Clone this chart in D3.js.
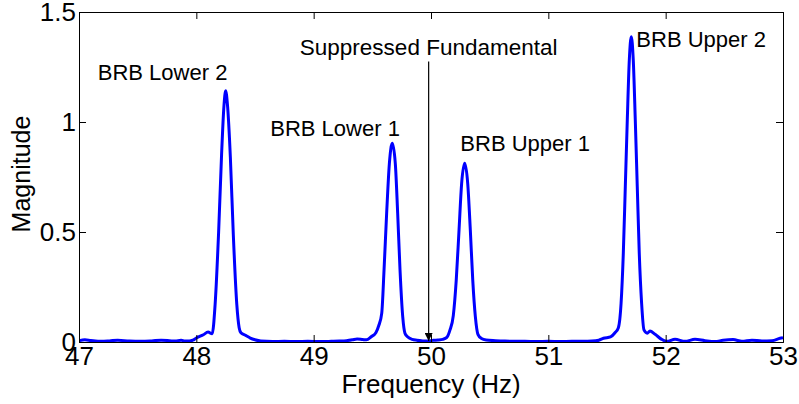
<!DOCTYPE html>
<html>
<head>
<meta charset="utf-8">
<script src="https://cdn.jsdelivr.net/npm/d3@7"></script>
<style>
  html, body { margin: 0; padding: 0; background: #fff; }
  svg { display: block; }
  text { font-family: "Liberation Sans", Arial, sans-serif; fill: #000; }
</style>
</head>
<body>
<svg id="chart" width="799" height="404"></svg>
<script>
// Spectrum of the stator current around the supply frequency
const freq = [
  47.00, 47.05, 47.10, 47.19, 47.26, 47.33, 47.43, 47.53, 47.62, 47.70, 47.77, 47.82, 47.87, 47.90, 47.94, 47.97,
  48.00, 48.06, 48.10, 48.135, 48.16, 48.19, 48.215, 48.235, 48.25, 48.265, 48.29, 48.315, 48.345, 48.365, 48.38,
  48.42, 48.46, 48.50, 48.55, 48.65, 48.75, 48.85, 48.95, 49.05, 49.15, 49.22, 49.28, 49.33, 49.37, 49.42, 49.45,
  49.49, 49.53, 49.555, 49.58, 49.60, 49.622, 49.645, 49.67, 49.696, 49.716, 49.736, 49.759, 49.778, 49.80,
  49.84, 49.88, 49.93, 49.97, 50.02, 50.06, 50.10, 50.135, 50.162, 50.19, 50.215, 50.239, 50.261, 50.287,
  50.313, 50.335, 50.356, 50.378, 50.40, 50.43, 50.47, 50.55, 50.63, 50.72, 50.80, 50.90, 51.00, 51.10, 51.20,
  51.30, 51.37, 51.43, 51.47, 51.53, 51.568, 51.597, 51.62, 51.639, 51.656, 51.673, 51.69, 51.707, 51.724,
  51.741, 51.758, 51.775, 51.795, 51.815, 51.843, 51.866, 51.91, 51.966, 52.01, 52.08, 52.165, 52.25, 52.335,
  52.42, 52.49, 52.575, 52.65, 52.735, 52.82, 52.906, 52.975, 53.00
];
const magnitude = [
  0.006, 0.010, 0.007, 0.003, 0.005, 0.008, 0.004, 0.003, 0.005, 0.008, 0.006, 0.004, 0.008, 0.005, 0.004, 0.008,
  0.018, 0.033, 0.045, 0.037, 0.17, 0.50, 0.85, 1.07, 1.142, 1.08, 0.84, 0.49, 0.17, 0.065, 0.042,
  0.030, 0.018, 0.010, 0.004, 0.002, 0.003, 0.002, 0.003, 0.002, 0.003, 0.004, 0.006, 0.010, 0.014, 0.011, 0.010,
  0.024, 0.042, 0.075, 0.13, 0.33, 0.585, 0.81, 0.903, 0.81, 0.585, 0.327, 0.115, 0.04, 0.024,
  0.012, 0.008, 0.005, 0.004, 0.008, 0.009, 0.012, 0.021, 0.055, 0.12, 0.28, 0.51, 0.72, 0.812,
  0.72, 0.51, 0.28, 0.115, 0.035, 0.016, 0.009, 0.006, 0.004, 0.003, 0.003, 0.002, 0.003, 0.002, 0.003,
  0.003, 0.004, 0.008, 0.017, 0.023, 0.042, 0.065, 0.176, 0.403, 0.706, 1.01, 1.28, 1.388, 1.28,
  1.01, 0.706, 0.403, 0.176, 0.055, 0.040, 0.050, 0.035, 0.012, 0.003, 0.012, 0.003, 0.012, 0.006,
  0.002, 0.008, 0.011, 0.003, 0.008, 0.005, 0.006, 0.017, 0.020
];

const xTicks = [47, 48, 49, 50, 51, 52, 53];
const yTicks = [0, 0.5, 1, 1.5];
const yTickLabels = ["0", "0.5", "1", "1.5"];

// Annotations: label text, anchor frequency, anchor magnitude
const annotationText = ["BRB Lower 2", "BRB Lower 1", "BRB Upper 1", "BRB Upper 2"];
const annotationFreq = [47.16, 48.63, 50.25, 51.75];
const annotationMag = [1.189, 0.937, 0.868, 1.34];

const fundamentalText = "Suppressed Fundamental";
const fundamentalFreq = 49.98;
const arrowTopMag = 1.275;

const svg = d3.select("#chart");
const margin = { left: 79, right: 16, top: 12, bottom: 62 };
const W = 799, H = 404;
const x = d3.scaleLinear().domain([47, 53]).range([margin.left, W - margin.right]);
const y = d3.scaleLinear().domain([0, 1.5]).range([H - margin.bottom, margin.top]);

const labelSize = 22;   // annotations
const tickSize = 26;    // tick labels
const titleSize = 26;   // axis titles

// Spectrum trace
const line = d3.line()
  .x((d, i) => x(freq[i]))
  .y(d => y(d))
  .curve(d3.curveMonotoneX);

svg.append("defs").append("clipPath").attr("id", "plotClip")
  .append("rect")
  .attr("x", x(47)).attr("y", y(1.5) - 2)
  .attr("width", x(53) - x(47)).attr("height", y(0) - y(1.5) + 2);

svg.append("path")
  .datum(magnitude)
  .attr("clip-path", "url(#plotClip)")
  .attr("fill", "none")
  .attr("stroke", "#0000ff")
  .attr("stroke-width", 3)
  .attr("stroke-linejoin", "round")
  .attr("d", line);

// Axes box with inward ticks on all four sides
const tickLen = 7;
const bottomAxis = d3.axisBottom(x).tickValues(xTicks).tickSize(-tickLen).tickPadding(5).tickFormat(d3.format("d"));
const topAxis = d3.axisTop(x).tickValues(xTicks).tickSize(-tickLen).tickFormat("");
const leftAxis = d3.axisLeft(y).tickValues(yTicks).tickSize(-tickLen).tickPadding(3).tickFormat((d, i) => yTickLabels[i]);
const rightAxis = d3.axisRight(y).tickValues(yTicks).tickSize(-tickLen).tickFormat("");

function styleAxis(g) {
  g.select(".domain").attr("stroke", "#000").attr("stroke-width", 1);
  g.selectAll(".tick line").attr("stroke", "#000").attr("stroke-width", 1);
  g.selectAll(".tick text")
    .attr("font-family", "Liberation Sans, Arial, sans-serif")
    .attr("font-size", tickSize)
    .attr("fill", "#000");
}

svg.append("g").attr("transform", `translate(0,${y(0)})`).call(bottomAxis).call(styleAxis);
svg.append("g").attr("transform", `translate(0,${y(1.5)})`).call(topAxis).call(styleAxis);
svg.append("g").attr("transform", `translate(${x(47)},0)`).call(leftAxis).call(styleAxis);
svg.append("g").attr("transform", `translate(${x(53)},0)`).call(rightAxis).call(styleAxis);

// Axis titles
svg.append("text")
  .attr("x", (x(47) + x(53)) / 2)
  .attr("y", 393)
  .attr("text-anchor", "middle")
  .attr("font-size", titleSize)
  .text("Frequency (Hz)");

svg.append("text")
  .attr("transform", `translate(30,174) rotate(-90)`)
  .attr("text-anchor", "middle")
  .attr("font-size", 25)
  .text("Magnitude");

// Peak labels
svg.selectAll("text.peak")
  .data(annotationText)
  .join("text")
  .attr("class", "peak")
  .attr("x", (d, i) => x(annotationFreq[i]))
  .attr("y", (d, i) => y(annotationMag[i]))
  .attr("font-size", labelSize)
  .text(d => d);

// Arrow to the suppressed fundamental
svg.append("defs").append("marker")
  .attr("id", "arrowHead")
  .attr("viewBox", "0 0 10 10")
  .attr("refX", 10).attr("refY", 5)
  .attr("markerWidth", 9).attr("markerHeight", 8)
  .attr("markerUnits", "userSpaceOnUse")
  .attr("orient", "auto")
  .append("path")
  .attr("d", "M0,0 L10,5 L0,10 Z")
  .attr("fill", "#000");

svg.append("line")
  .attr("x1", x(fundamentalFreq)).attr("x2", x(fundamentalFreq))
  .attr("y1", y(arrowTopMag)).attr("y2", y(0) - 1)
  .attr("stroke", "#000").attr("stroke-width", 1.2)
  .attr("marker-end", "url(#arrowHead)");

svg.append("text")
  .attr("x", x(fundamentalFreq))
  .attr("y", 55)
  .attr("text-anchor", "middle")
  .attr("font-size", 22.5)
  .text(fundamentalText);
</script>
</body>
</html>
